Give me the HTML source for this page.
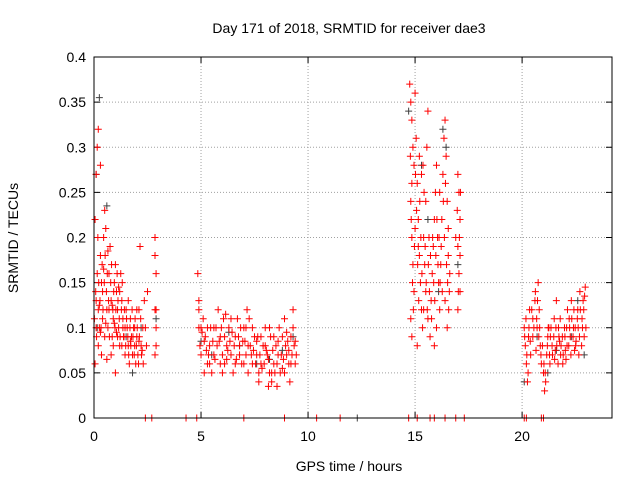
<!DOCTYPE html>
<html><head><meta charset="utf-8"><style>
body{margin:0;background:#fff;}
svg{display:block;font-family:"Liberation Sans",sans-serif;}
</style></head><body>
<svg id="chart" width="640" height="480">
<text x="349" y="33" font-size="14" text-anchor="middle">Day 171 of 2018, SRMTID for receiver dae3</text>
<text x="349" y="471" font-size="14" text-anchor="middle">GPS time / hours</text>
<text transform="translate(18,238) rotate(-90)" font-size="14" text-anchor="middle">SRMTID / TECUs</text>
<g id="grid"></g><g id="axes"></g><g id="marks"></g>
<rect x="94" y="57" width="518" height="361" fill="none" stroke="#000"/>
</svg>
<script>
const xTicks=[0,5,10,15,20];
const yTicks=[0,0.05,0.1,0.15,0.2,0.25,0.3,0.35,0.4];
const yTickLabels=["0","0.05","0.1","0.15","0.2","0.25","0.3","0.35","0.4"];
const redTimes=[0.05,0.1,0.15,0.2,0.3,0.1,0.15,0.2,0.25,0.3,0.35,0.4,0.45,0.5,0.55,0.6,0.65,0.7,0.75,0.8,0.85,0.9,0.95,1.0,1.05,1.1,1.15,1.2,1.25,1.3,1.35,1.4,1.45,1.5,1.55,1.6,1.65,1.7,1.75,1.8,1.85,1.9,1.95,2.0,2.05,2.1,2.15,2.2,2.3,2.4,2.5,0.05,0.1,0.2,0.35,0.5,0.6,0.8,1.0,1.1,1.3,0.4,0.7,0.9,1.2,1.45,1.7,2.0,2.25,0.3,0.55,0.85,1.05,1.35,1.6,1.9,2.1,2.85,2.85,2.9,2.85,2.9,2.9,2.85,2.9,
4.85,4.9,4.9,4.95,5.0,5.1,5.2,5.3,5.4,5.5,5.6,5.7,5.8,5.9,6.0,6.1,6.2,6.3,6.4,6.5,6.6,6.7,6.8,6.9,7.0,7.1,7.2,7.3,7.4,7.5,7.6,7.7,7.8,7.9,8.0,8.1,8.2,8.3,8.4,8.5,8.6,8.7,8.8,8.9,9.0,9.1,9.2,9.3,9.35,9.4,5.05,5.25,5.45,5.65,5.85,6.05,6.25,6.45,6.65,6.85,7.05,7.25,7.45,7.65,7.85,8.05,8.25,8.45,8.65,8.85,9.05,9.25,5.15,6.15,7.15,8.15,8.55,9.15,
14.75,14.8,14.85,14.9,14.95,14.8,14.85,14.9,14.95,14.8,14.85,15.0,15.05,15.1,15.15,15.2,15.25,15.3,15.35,15.1,15.4,15.45,15.5,15.55,15.6,15.5,15.6,15.7,15.75,15.8,15.85,15.9,15.95,16.0,16.05,16.1,16.15,16.2,16.25,16.3,16.35,16.4,16.45,16.5,16.55,16.4,16.5,16.6,15.2,15.3,15.0,15.4,15.9,16.0,17.0,17.05,17.1,17.0,17.05,17.1,17.0,17.1,16.9,14.85,15.15,15.65,16.15,16.55,
20.1,20.15,20.2,20.25,20.3,20.35,20.4,20.5,20.6,20.7,20.75,20.8,20.85,20.9,21.0,21.1,21.15,21.2,21.3,21.4,21.5,21.6,21.7,21.8,21.9,22.0,22.1,22.2,22.3,22.4,22.5,22.6,22.7,22.8,22.9,22.95,20.5,21.05,21.35,21.75,22.05,22.45,22.85,20.65,21.25,21.55,22.25,22.65,
2.4,2.7,4.3,4.8,7.0,8.9,10.4,11.5,14.7,15.1,15.7,15.9,16.4,16.9,17.3,20.1,20.2,20.9,21.0];
const redValues=[0.22,0.27,0.3,0.32,0.28,0.13,0.16,0.12,0.1,0.18,0.15,0.14,0.2,0.23,0.21,0.12,0.1,0.16,0.19,0.13,0.09,0.11,0.15,0.17,0.14,0.12,0.1,0.08,0.16,0.13,0.11,0.09,0.07,0.12,0.1,0.08,0.06,0.11,0.09,0.07,0.1,0.08,0.06,0.09,0.07,0.12,0.19,0.08,0.06,0.1,0.14,0.06,0.1,0.08,0.07,0.09,0.065,0.07,0.05,0.09,0.08,0.11,0.12,0.08,0.14,0.1,0.085,0.12,0.075,0.095,0.105,0.125,0.095,0.1,0.13,0.1,0.085,0.2,0.18,0.16,0.12,0.1,0.08,0.07,0.12,
0.16,0.13,0.1,0.08,0.07,0.11,0.09,0.06,0.08,0.05,0.07,0.1,0.12,0.09,0.07,0.06,0.08,0.1,0.07,0.05,0.09,0.11,0.08,0.06,0.1,0.07,0.05,0.08,0.06,0.09,0.07,0.04,0.06,0.08,0.1,0.07,0.05,0.04,0.06,0.08,0.07,0.05,0.09,0.11,0.07,0.06,0.09,0.12,0.08,0.06,0.095,0.075,0.1,0.065,0.085,0.11,0.075,0.095,0.065,0.1,0.085,0.11,0.075,0.09,0.055,0.075,0.09,0.05,0.1,0.065,0.085,0.07,0.05,0.115,0.12,0.035,0.035,0.04,
0.37,0.35,0.33,0.3,0.28,0.24,0.2,0.17,0.14,0.11,0.09,0.36,0.31,0.26,0.22,0.18,0.15,0.12,0.1,0.08,0.2,0.17,0.24,0.3,0.34,0.14,0.11,0.09,0.13,0.16,0.19,0.22,0.25,0.28,0.2,0.15,0.12,0.17,0.22,0.27,0.31,0.33,0.29,0.24,0.18,0.13,0.1,0.14,0.29,0.27,0.21,0.12,0.08,0.1,0.27,0.25,0.22,0.19,0.16,0.14,0.12,0.18,0.2,0.26,0.19,0.2,0.25,0.21,
0.1,0.08,0.06,0.04,0.09,0.12,0.07,0.11,0.13,0.1,0.15,0.12,0.08,0.06,0.05,0.04,0.07,0.09,0.06,0.08,0.11,0.13,0.1,0.07,0.06,0.09,0.08,0.11,0.13,0.1,0.08,0.12,0.14,0.11,0.09,0.145,0.09,0.03,0.1,0.085,0.065,0.075,0.13,0.075,0.1,0.075,0.09,0.07,
0,0,0,0,0,0,0,0,0,0,0,0,0,0,0,0,0,0,0];
const redTimes2=[0.02,0.08,0.12,0.18,0.22,0.28,0.33,0.38,0.42,0.48,0.52,0.58,0.62,0.68,0.72,0.78,0.82,0.88,0.92,0.98,1.02,1.08,1.12,1.18,1.22,1.28,1.32,1.38,1.42,1.48,1.52,1.58,1.62,1.68,1.72,1.78,1.82,1.88,1.92,1.98,2.02,2.08,2.12,2.18,2.22,2.28,2.35,2.45,0.65,0.45,0.25,1.15,0.95,
4.9,5.0,5.15,5.3,5.35,5.55,5.6,5.75,5.9,5.95,6.1,6.2,6.35,6.4,6.55,6.6,6.75,6.8,6.95,7.1,7.2,7.35,7.4,7.55,7.6,7.75,7.8,7.95,8.0,8.15,8.2,8.35,8.4,8.55,8.6,8.75,8.8,8.95,9.0,9.1,9.2,9.3,9.4,9.45,5.4,6.0,7.0,7.7,8.3,8.9,
14.78,14.82,14.88,14.92,14.97,15.02,15.07,15.12,15.17,15.22,15.27,15.32,15.37,15.42,15.47,15.52,15.57,15.62,15.67,15.72,15.77,15.82,15.87,15.92,15.97,16.02,16.07,16.12,16.17,16.22,16.27,16.32,16.37,16.42,16.47,16.52,16.57,16.62,16.97,17.02,17.07,17.12,
20.12,20.18,20.22,20.28,20.32,20.38,20.45,20.55,20.62,20.68,20.72,20.78,20.82,20.88,20.95,21.02,21.08,21.18,21.22,21.28,21.32,21.42,21.48,21.52,21.58,21.62,21.68,21.72,21.78,21.82,21.88,21.92,21.98,22.02,22.08,22.12,22.18,22.22,22.28,22.32,22.38,22.42,22.48,22.52,22.58,22.62,22.68,22.72,22.78,22.82,22.88,22.92,22.98];
const redValues2=[0.11,0.14,0.09,0.2,0.15,0.13,0.1,0.17,0.12,0.15,0.18,0.14,0.16,0.13,0.09,0.15,0.17,0.12,0.14,0.1,0.12,0.16,0.13,0.11,0.09,0.12,0.15,0.09,0.12,0.08,0.11,0.09,0.07,0.1,0.08,0.12,0.09,0.07,0.11,0.08,0.1,0.06,0.09,0.11,0.07,0.1,0.13,0.08,0.185,0.165,0.125,0.145,0.105,
0.12,0.1,0.085,0.1,0.07,0.085,0.1,0.08,0.06,0.1,0.09,0.065,0.085,0.11,0.08,0.06,0.09,0.07,0.085,0.1,0.08,0.07,0.1,0.06,0.085,0.07,0.09,0.06,0.08,0.065,0.1,0.075,0.09,0.06,0.085,0.07,0.055,0.08,0.095,0.075,0.06,0.1,0.085,0.07,0.06,0.05,0.06,0.05,0.05,0.05,
0.29,0.22,0.15,0.12,0.19,0.27,0.23,0.17,0.13,0.24,0.2,0.16,0.28,0.25,0.19,0.15,0.12,0.17,0.14,0.18,0.11,0.2,0.15,0.13,0.18,0.22,0.17,0.2,0.15,0.19,0.14,0.24,0.2,0.26,0.17,0.15,0.12,0.16,0.23,0.14,0.2,0.25,
0.09,0.11,0.07,0.05,0.1,0.085,0.12,0.1,0.14,0.11,0.13,0.09,0.1,0.07,0.08,0.06,0.05,0.08,0.1,0.07,0.09,0.07,0.09,0.065,0.1,0.08,0.06,0.09,0.11,0.08,0.09,0.07,0.1,0.075,0.1,0.12,0.08,0.1,0.07,0.11,0.09,0.12,0.1,0.085,0.11,0.1,0.09,0.12,0.08,0.1,0.12,0.135,0.1];
const greyTimes=[0.25,0.1,0.6,1.8,2.2,2.9,5.0,6.3,7.6,8.8,9.3,14.7,15.3,16.3,16.45,17.0,20.1,20.7,21.2,22.6,22.9,12.3,0.15,1.5,5.5,6.8,8.2,15.6,16.1,21.6,22.3];
const greyValues=[0.355,0.27,0.235,0.05,0.1,0.11,0.085,0.095,0.06,0.075,0.09,0.34,0.28,0.32,0.3,0.17,0.04,0.09,0.05,0.13,0.07,0,0.1,0.09,0.07,0.08,0.065,0.22,0.14,0.075,0.09];
const X=t=>94+t*(518/24.2), Y=v=>418-v*(361/0.4);
const NS="http://www.w3.org/2000/svg";
const grid=document.getElementById('grid'),axes=document.getElementById('axes'),marks=document.getElementById('marks');
function mk(tag,attrs,parent){const e=document.createElementNS(NS,tag);for(const k in attrs)e.setAttribute(k,attrs[k]);parent.appendChild(e);return e;}
yTicks.forEach((v,i)=>{
  if(i>0&&i<yTicks.length-1){const g=mk('line',{x1:94,x2:612,y1:Y(v),y2:Y(v),stroke:'#a0a0a0','stroke-dasharray':'1,2'},grid);
  
  }
  mk('line',{x1:94,x2:100,y1:Y(v),y2:Y(v),stroke:'#000'},axes);
  mk('line',{x1:606,x2:612,y1:Y(v),y2:Y(v),stroke:'#000'},axes);
  const t=mk('text',{x:86,y:Y(v)+5,'font-size':14,'text-anchor':'end'},axes);t.textContent=yTickLabels[i];
  
  
});
xTicks.forEach(v=>{
  if(v>0){const g=mk('line',{x1:X(v),x2:X(v),y1:57,y2:418,stroke:'#a0a0a0','stroke-dasharray':'1,2'},grid);
  
  }
  mk('line',{x1:X(v),x2:X(v),y1:418,y2:412,stroke:'#000'},axes);
  mk('line',{x1:X(v),x2:X(v),y1:57,y2:63,stroke:'#000'},axes);
  const t=mk('text',{x:X(v),y:441,'font-size':14,'text-anchor':'middle'},axes);t.textContent=String(v);
  
  
});
function cross(t,v,color){
  const x=X(t),y=Y(v);
  const p=mk('path',{d:`M${x-3.5},${y}H${x+3.5}M${x},${y-3.5}V${y+3.5}`,stroke:color,'stroke-width':1,fill:'none'},marks);
  
  
}
greyTimes.forEach((t,i)=>cross(t,greyValues[i],'#404040'));
redTimes.forEach((t,i)=>cross(t,redValues[i],'#ff0000'));
redTimes2.forEach((t,i)=>cross(t,redValues2[i],'#ff0000'));
</script>
</body></html>
